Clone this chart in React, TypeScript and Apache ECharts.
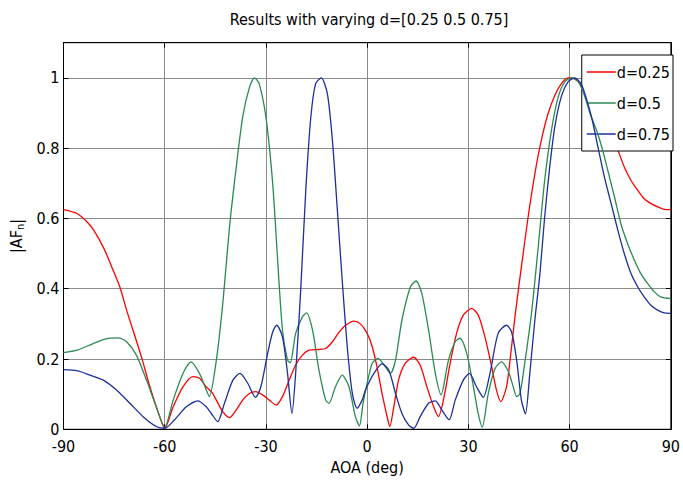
import React, { useEffect, useRef } from "react";
import * as echarts from "echarts";

const FONT = "'Liberation Sans Narrow', 'DejaVu Sans Condensed', 'Liberation Sans', Arial, sans-serif";

const titleText = "Results with varying d=[0.25 0.5 0.75]";
const xTickValues = [-90, -60, -30, 0, 30, 60, 90];
const yTickValues = [0, 0.2, 0.4, 0.6, 0.8, 1];

const seriesNames = ["d=0.25", "d=0.5", "d=0.75"];
const seriesColors = ["#ff0000", "#2a8a55", "#1c2f9a"];

const redAngles = [
  -90, -86, -83, -81, -78, -75.7, -73.3, -71.3, -69.4, -66.9, -64.4, -61.5, -60, -57.5, -54.6, -51.6, -49.7,
  -47.7, -46, -44.7, -42.8, -40.8, -38.8, -36.9, -34.9, -33, -31, -29, -27, -25.1, -23.1, -21.2, -19.2, -17.2,
  -14.3, -12.3, -10.3, -8.4, -6.4, -3.9, -2, 0, 1.5, 2.9, 4.4, 5.9, 6.7, 7.9, 9.3, 11.3, 13.8, 15.7, 17.7,
  19.7, 21.1, 22.6, 24.6, 26.5, 28.5, 31, 32.9, 34.9, 36.9, 38.3, 39.6, 41.3, 42.5, 43.8, 45.7, 47.7, 49.7,
  51.6, 53.6, 55.6, 57.5, 59.5, 60.5, 62.5, 64.5, 66.5, 68.5, 71, 73, 74.3, 76.2, 78.2, 80.2, 82.1, 84.1,
  86.1, 88, 90,
];
const redValues = [
  0.625, 0.614, 0.59, 0.566, 0.514, 0.462, 0.405, 0.339, 0.282, 0.206, 0.121, 0.036, 0.003, 0.064, 0.121, 0.15, 0.145,
  0.121, 0.105, 0.083, 0.05, 0.033, 0.055, 0.083, 0.102, 0.107, 0.098, 0.083, 0.069, 0.093, 0.14, 0.183, 0.211, 0.225,
  0.227, 0.23, 0.249, 0.275, 0.296, 0.308, 0.3, 0.273, 0.235, 0.178, 0.102, 0.036, 0.008, 0.064, 0.14, 0.188, 0.205, 0.183, 0.121,
  0.064, 0.036, 0.083, 0.188, 0.273, 0.325, 0.344, 0.325, 0.263, 0.178, 0.112, 0.079, 0.121, 0.21, 0.32, 0.462, 0.604, 0.727,
  0.822, 0.898, 0.95, 0.983, 1.0, 1.0, 0.99, 0.96, 0.92, 0.88, 0.845, 0.81, 0.794, 0.746, 0.708, 0.68, 0.656, 0.642,
  0.633, 0.626, 0.625,
];

const greenAngles = [
  -90, -86, -81.2, -77.2, -73.8, -71.3, -68.4, -65.4, -62.5, -60, -57.5, -54.6, -52.2, -49.7, -47.7, -46.8,
  -44.7, -42.7, -40.8, -38.8, -36.9, -34.9, -33.4, -32, -30, -28, -26.6, -25.1, -23.6, -22.8, -21.2, -19.2, -18,
  -16.2, -14.3, -12.3, -11.3, -9.4, -7.4, -5.4, -3.5, -2.3, -1.2, 0, 1.5, 3.2, 5.4, 6.9, 8.4, 10.3, 12.8, 14.5,
  16.2, 18.2, 20.2, 21.9, 24.1, 26.1, 27.5, 29.5, 31.5, 32.9, 34.1, 35.9, 37.9, 39.8, 41.8, 43.3, 44.3, 45.3,
  46.7, 48.7, 50.7, 52.6, 54.6, 56.6, 58.5, 60.5, 62.5, 64.4, 66, 68, 69.8, 71.3, 73.3, 75.2, 77.2, 79.2, 81.1,
  83.1, 85.1, 87, 90,
];
const greenValues = [
  0.218, 0.225, 0.244, 0.258, 0.26, 0.249, 0.211, 0.14, 0.064, 0.006, 0.083, 0.159, 0.192, 0.159, 0.112, 0.093,
  0.197, 0.367, 0.576, 0.746, 0.888, 0.973, 1.0, 0.983, 0.888, 0.699, 0.491, 0.282, 0.197, 0.189, 0.273, 0.32, 0.331,
  0.282, 0.169, 0.083, 0.074, 0.121, 0.154, 0.121, 0.036, 0.01, 0.075, 0.131, 0.188, 0.202, 0.178, 0.159, 0.197, 0.311, 0.405, 0.422,
  0.386, 0.282, 0.159, 0.098, 0.197, 0.249, 0.259, 0.216, 0.121, 0.045, 0.006, 0.102, 0.173, 0.192, 0.165, 0.121, 0.093, 0.102,
  0.188, 0.33, 0.519, 0.708, 0.85, 0.945, 0.988, 1.0, 0.99, 0.95, 0.9, 0.85, 0.794, 0.737, 0.661, 0.585, 0.528, 0.481, 0.443,
  0.415, 0.391, 0.377, 0.372,
];

const blueAngles = [
  -90, -86, -82.1, -78.2, -74.3, -70.3, -66.4, -62.5, -60, -57.1, -53.6, -50.2, -47.7, -46.2, -44.3, -42.3, -39.8,
  -37.7, -35.4, -33.1, -31.5, -29.5, -28, -26.8, -25.1, -23.6, -22.3, -21.2, -19.7, -18.2, -16.7, -15.3, -13.6,
  -11.8, -10.3, -8.9, -7.4, -5.9, -4.4, -3, -1.5, -0.5, 2, 4.4, 6.4, 8.4, 10.3, 12.3, 13.8, 15.7, 18.2, 20.2,
  22.1, 24.3, 26.1, 28.5, 30.3, 32.4, 34.4, 36.4, 38.8, 41.3, 42.8, 44.3, 45.7, 46.9, 48.2, 49.7, 51.2, 52.6,
  54.1, 55.6, 57.5, 59.5, 61.5, 63.4, 65, 66.7, 68.4, 70.3, 72.3, 74.3, 76.2, 78.2, 80.2, 82.1, 84.1, 86.1, 88, 90,
];
const blueValues = [
  0.17, 0.167, 0.154, 0.14, 0.112, 0.074, 0.036, 0.008, 0.003, 0.027, 0.064, 0.081, 0.064, 0.045, 0.022, 0.074, 0.14,
  0.159, 0.131, 0.091, 0.121, 0.216, 0.277, 0.296, 0.263, 0.159, 0.045, 0.159, 0.396, 0.68, 0.888, 0.983, 1.0,
  0.955, 0.822, 0.633, 0.424, 0.235, 0.102, 0.06, 0.083, 0.112, 0.159, 0.186, 0.169, 0.102, 0.045, 0.012, 0.003, 0.036, 0.074, 0.081,
  0.055, 0.027, 0.083, 0.14, 0.159, 0.121, 0.091, 0.159, 0.273, 0.296, 0.277, 0.197, 0.083, 0.044, 0.159, 0.311, 0.443, 0.604,
  0.746, 0.86, 0.945, 0.988, 1.0, 0.983, 0.94, 0.88, 0.803, 0.718, 0.642, 0.566, 0.5, 0.443, 0.405, 0.377, 0.353, 0.339, 0.331, 0.33,
];

const allAngles = [redAngles, greenAngles, blueAngles];
const allValues = [redValues, greenValues, blueValues];

const FS = 16;

export default function App() {
  const ref = useRef<HTMLDivElement>(null);
  useEffect(() => {
    if (!ref.current) return;
    const chart = echarts.init(ref.current, undefined, { renderer: "svg" });
    const series = seriesNames.map((name, i) => ({
      name,
      type: "line",
      xAxisIndex: 0,
      yAxisIndex: 0,
      data: allAngles[i].map((a, j) => [a, allValues[i][j]]),
      symbol: "none",
      smooth: 0.25,
      lineStyle: { color: seriesColors[i], width: 1.3 },
      itemStyle: { color: seriesColors[i] },
      z: 3 + i,
    }));
    const tickStyle = { show: true, inside: true, length: 5, lineStyle: { color: "#000" } };
    chart.setOption({
      animation: false,
      backgroundColor: "#ffffff",
      textStyle: { fontFamily: FONT },
      grid: {
        left: 63.5,
        right: 9.5,
        top: 42.7,
        bottom: 53.7,
        show: true,
        borderColor: "#000",
        borderWidth: 1,
        backgroundColor: "transparent",
      },
      graphic: [
        {
          type: "text",
          x: 369,
          y: 19,
          style: {
            text: titleText,
            fontFamily: FONT,
            fontSize: FS,
            fill: "#000",
            textAlign: "center",
            textVerticalAlign: "middle",
          },
        },
      ],
      xAxis: [
        {
          type: "value",
          min: -90,
          max: 90,
          interval: 30,
          name: "AOA (deg)",
          nameLocation: "middle",
          nameGap: 29,
          nameTextStyle: { fontFamily: FONT, fontSize: FS, color: "#000" },
          axisLine: { show: true, onZero: false, lineStyle: { color: "#000", width: 1 } },
          axisTick: tickStyle,
          axisLabel: {
            fontFamily: FONT,
            fontSize: FS,
            color: "#000",
            margin: 9,
            formatter: (v: number) => (xTickValues.includes(v) ? String(v) : ""),
          },
          splitLine: { show: true, lineStyle: { color: "#8c8c8c", width: 1 } },
        },
        {
          type: "value",
          position: "top",
          min: -90,
          max: 90,
          interval: 30,
          axisLine: { show: true, onZero: false, lineStyle: { color: "#000", width: 1 } },
          axisTick: tickStyle,
          axisLabel: { show: false },
          splitLine: { show: false },
        },
      ],
      yAxis: [
        {
          type: "value",
          min: 0,
          max: 1.1,
          interval: 0.2,
          name: "|AF{sub|n}|",
          nameLocation: "middle",
          nameGap: 31,
          nameRotate: 90,
          nameTextStyle: {
            fontFamily: FONT,
            fontSize: FS,
            color: "#000",
            rich: { sub: { fontFamily: FONT, fontSize: 11, verticalAlign: "bottom", padding: [7, 0, 0, 0] } },
          },
          axisLine: { show: true, onZero: false, lineStyle: { color: "#000", width: 1 } },
          axisTick: tickStyle,
          axisLabel: {
            fontFamily: FONT,
            fontSize: FS,
            color: "#000",
            margin: 4,
            showMaxLabel: false,
            formatter: (v: number) => {
              const r = Math.round(v * 10) / 10;
              return yTickValues.includes(r) ? String(r) : "";
            },
          },
          splitLine: { show: true, lineStyle: { color: "#8c8c8c", width: 1 } },
        },
        {
          type: "value",
          position: "right",
          min: 0,
          max: 1.1,
          interval: 0.2,
          axisLine: { show: true, onZero: false, lineStyle: { color: "#000", width: 1 } },
          axisTick: tickStyle,
          axisLabel: { show: false },
          splitLine: { show: false },
        },
      ],
      legend: {
        data: seriesNames.map((n, i) => ({ name: n, itemStyle: { color: seriesColors[i] } })),
        icon: "rect",
        orient: "vertical",
        right: 10,
        top: 55,
        itemWidth: 29,
        itemHeight: 1.5,
        itemGap: 13,
        padding: [8, 3, 8, 5],
        backgroundColor: "#ffffff",
        borderColor: "#000",
        borderWidth: 1,
        textStyle: { fontFamily: FONT, fontSize: FS, color: "#000", padding: [0, 0, 0, -4], lineHeight: 18 },
      },
      series,
    });
    return () => chart.dispose();
  }, []);
  return <div ref={ref} style={{ width: 683, height: 483, position: "absolute", left: 0, top: 0 }} />;
}
